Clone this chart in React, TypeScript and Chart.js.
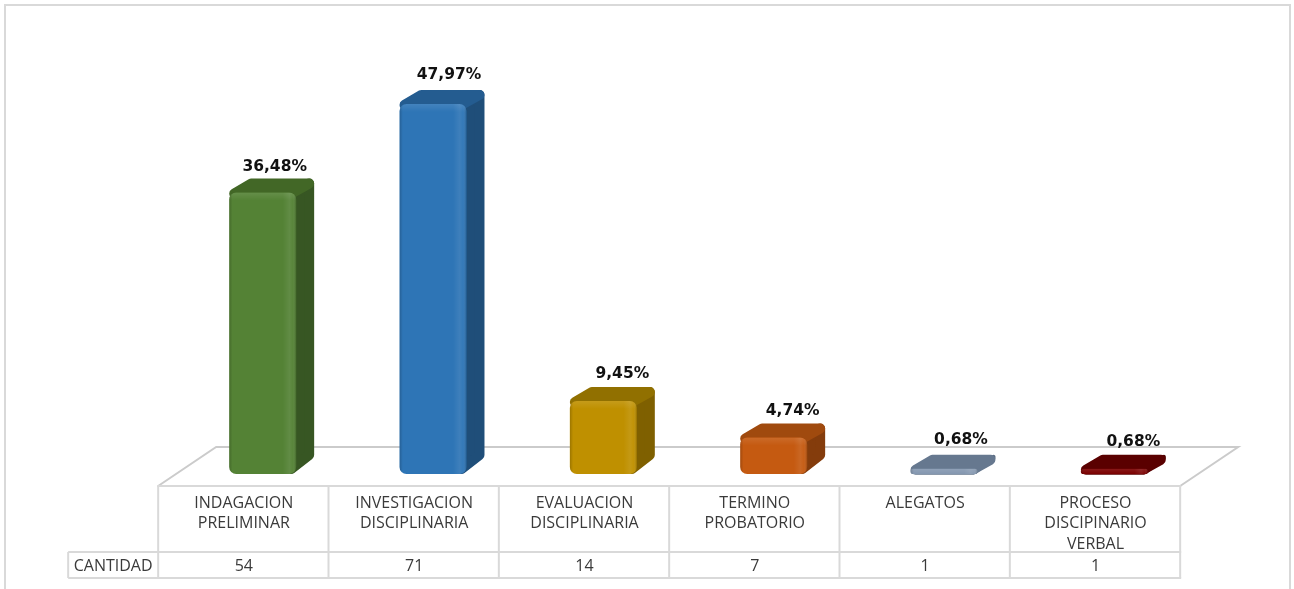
import React, { useEffect, useRef } from "react";
import { Chart, registerables } from "chart.js";

Chart.register(...registerables);

const categories: string[][] = [
  ["INDAGACION", "PRELIMINAR"],
  ["INVESTIGACION", "DISCIPLINARIA"],
  ["EVALUACION", "DISCIPLINARIA"],
  ["TERMINO", "PROBATORIO"],
  ["ALEGATOS"],
  ["PROCESO", "DISCIPINARIO", "VERBAL"],
];
const seriesName = "CANTIDAD";
const cantidad = [54, 71, 14, 7, 1, 1];
const percentLabels = ["36,48%", "47,97%", "9,45%", "4,74%", "0,68%", "0,68%"];

const frontColors = ["#548235", "#2e75b6", "#bf9000", "#c55a11", "#8497b0", "#7b0000"];
const topColors = ["#426726", "#245c90", "#917000", "#a04a0e", "#66788f", "#5a0000"];
const sideColors = ["#375623", "#1f4e79", "#7f6000", "#843c0c", "#5a6b80", "#4c0000"];
const labelShift: [number, number][] = [[12, -26], [16, -29], [19, -27.5], [19, -27], [17, -28.5], [19, -26.5]];

const DX = 18;
const DY = 14;
const GRID = "#d9d9d9";
const FLOOR = "#cbcbcb";
const TABLE_FONT = '16px "Open Sans"';
const PCT_FONT = 'bold 15.5px "DejaVu Sans"';

function poly(ctx: CanvasRenderingContext2D, pts: number[][], color: string, r: number) {
  ctx.save();
  ctx.fillStyle = color;
  ctx.strokeStyle = color;
  ctx.lineWidth = 2 * r;
  ctx.lineJoin = "round";
  ctx.beginPath();
  pts.forEach((p, i) => (i ? ctx.lineTo(p[0], p[1]) : ctx.moveTo(p[0], p[1])));
  ctx.closePath();
  ctx.fill();
  ctx.stroke();
  ctx.restore();
}

function line(ctx: CanvasRenderingContext2D, x0: number, y0: number, x1: number, y1: number) {
  ctx.beginPath();
  ctx.moveTo(x0, y0);
  ctx.lineTo(x1, y1);
  ctx.stroke();
}

const scene3d = {
  id: "scene3d",
  beforeDatasetsDraw(chart: any) {
    const { ctx, chartArea, scales } = chart;
    const meta = chart.getDatasetMeta(0);
    const step = scales.x.getPixelForValue(1) - scales.x.getPixelForValue(0);
    const cellLeft = scales.x.getPixelForValue(0) - 104.5;
    const cellRight = cellLeft + step * categories.length;
    const floorY = chartArea.bottom + 12;
    const row1 = floorY + 66;
    const row2 = row1 + 26;

    ctx.save();
    // frame
    ctx.strokeStyle = "#d9d9d9";
    ctx.lineWidth = 2;
    ctx.beginPath();
    ctx.moveTo(5, 589);
    ctx.lineTo(5, 5);
    ctx.lineTo(1290, 5);
    ctx.lineTo(1290, 589);
    ctx.stroke();

    // floor
    ctx.strokeStyle = FLOOR;
    ctx.lineWidth = 2;
    ctx.beginPath();
    ctx.moveTo(cellLeft, floorY);
    ctx.lineTo(cellLeft + 58, floorY - 39);
    ctx.lineTo(cellRight + 58, floorY - 39);
    ctx.lineTo(cellRight, floorY);
    ctx.stroke();

    // data table
    ctx.strokeStyle = GRID;
    line(ctx, cellLeft - 1, floorY, cellRight + 1, floorY);
    line(ctx, cellLeft - 90, row1, cellRight + 1, row1);
    line(ctx, cellLeft - 90, row2, cellRight + 1, row2);
    line(ctx, cellLeft - 90, row1, cellLeft - 90, row2);
    for (let i = 0; i <= categories.length; i++) {
      const x = cellLeft + step * i;
      line(ctx, x, floorY, x, row2);
    }
    ctx.fillStyle = "#3a3a3a";
    ctx.font = TABLE_FONT;
    ctx.textAlign = "center";
    ctx.textBaseline = "middle";
    ctx.fillText(seriesName, cellLeft - 45, row1 + 14);
    categories.forEach((lines, i) => {
      const cx = cellLeft + step * (i + 0.5) + 0.5;
      lines.forEach((t, k) => ctx.fillText(t, cx, floorY + 17 + k * 20.5));
      ctx.fillText(String(cantidad[i]), cx, row1 + 14);
    });

    // side and top faces, taken from the library's bar elements
    meta.data.forEach((bar: any, i: number) => {
      const xl = bar.x - bar.width / 2;
      const xr = bar.x + bar.width / 2;
      const yt = bar.y;
      const yb = bar.base;
      const r = yb - yt < 12 ? 2 : 5;
      const rt = 5;
      const bottom = Math.max(yb - DY - r, yt - DY + r);
      poly(ctx, [[xr - r, yt + r], [xr + DX - r, yt - DY + r], [xr + DX - r, bottom], [xr - r, Math.max(yb - r, yt + r)]], sideColors[i], r);
      poly(ctx, [[xl + rt, yt + 1], [xl + DX + rt - 1, yt - DY + rt], [xr + DX - rt, yt - DY + rt], [xr - rt, yt + 1]], topColors[i], rt);
    });
    ctx.restore();
  },
  afterDatasetsDraw(chart: any) {
    const { ctx } = chart;
    const meta = chart.getDatasetMeta(0);
    meta.data.forEach((bar: any, i: number) => {
      const xl = bar.x - bar.width / 2;
      const yt = bar.y;
      const w = bar.width;
      const h = bar.base - bar.y;
      // bevel shading over the front face
      ctx.save();
      ctx.beginPath();
      ctx.roundRect(xl, yt, w, h, Math.min(7, h / 2));
      ctx.clip();
      const g = ctx.createLinearGradient(xl, 0, xl + w, 0);
      g.addColorStop(0, "rgba(0,0,0,0.18)");
      g.addColorStop(0.05, "rgba(0,0,0,0)");
      g.addColorStop(0.8, "rgba(255,255,255,0)");
      g.addColorStop(0.9, "rgba(255,255,255,0.08)");
      g.addColorStop(0.95, "rgba(255,255,255,0.03)");
      g.addColorStop(1, "rgba(0,0,0,0.2)");
      ctx.fillStyle = g;
      ctx.fillRect(xl, yt, w, h);
      const v = ctx.createLinearGradient(0, yt, 0, yt + Math.min(8, h));
      v.addColorStop(0, "rgba(255,255,255,0.1)");
      v.addColorStop(1, "rgba(255,255,255,0)");
      ctx.fillStyle = v;
      ctx.fillRect(xl, yt, w, h);
      ctx.restore();

      // percentage label
      ctx.save();
      ctx.fillStyle = "#111111";
      ctx.font = PCT_FONT;
      ctx.textAlign = "center";
      ctx.textBaseline = "middle";
      ctx.fillText(percentLabels[i], bar.x + labelShift[i][0], yt + labelShift[i][1]);
      ctx.restore();
    });
  },
};

export default function App() {
  const ref = useRef<HTMLCanvasElement>(null);
  useEffect(() => {
    document.body.style.margin = "0";
    document.body.style.background = "#ffffff";
    const chart = new Chart(ref.current!, {
      type: "bar",
      data: {
        labels: categories.map((c) => c.join(" ")),
        datasets: [
          {
            label: seriesName,
            data: cantidad,
            backgroundColor: frontColors,
            borderRadius: 7,
            borderSkipped: false,
            categoryPercentage: 1,
            barPercentage: 67 / 170.4,
          },
        ],
      },
      plugins: [scene3d],
      options: {
        animation: false,
        responsive: false,
        devicePixelRatio: 1,
        layout: { padding: { left: 177.5, right: 94.5, top: 57, bottom: 115 } },
        plugins: { legend: { display: false }, tooltip: { enabled: false }, title: { display: false } },
        scales: {
          x: { display: false, grid: { display: false } },
          y: { display: false, min: 0, max: 80, grid: { display: false } },
        },
      },
    } as any);
    return () => chart.destroy();
  }, []);
  return (
    <canvas
      ref={ref}
      width={1294}
      height={589}
      style={{ position: "absolute", left: 0, top: 0, width: 1294, height: 589, display: "block", filter: "blur(0.35px)" }}
    />
  );
}
